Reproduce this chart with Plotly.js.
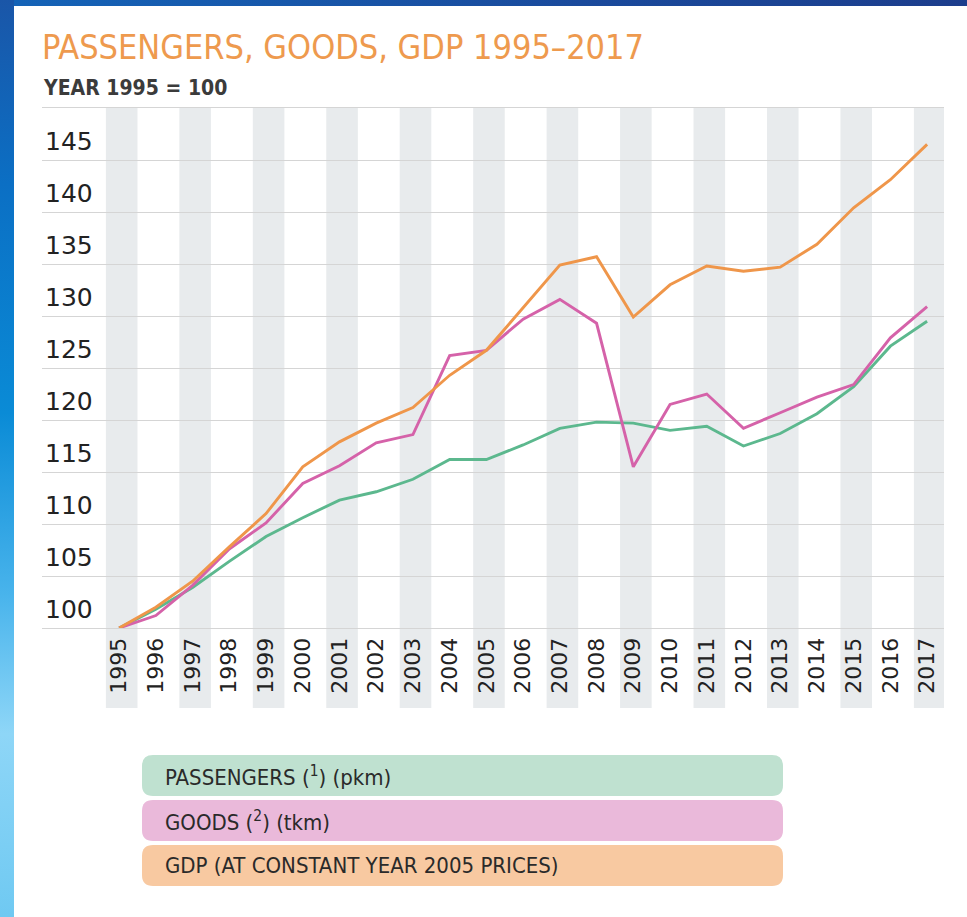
<!DOCTYPE html>
<html>
<head>
<meta charset="utf-8">
<script src="https://cdn.plot.ly/plotly-3.0.1.min.js"></script>
<style>
  html, body { margin: 0; padding: 0; width: 967px; height: 917px; overflow: hidden; background: #ffffff; }
  #topband { position: absolute; left: 0; top: 0; width: 967px; height: 6px;
    background: linear-gradient(to right, #1464b8, #1a4a9c 60%, #1c3d8c); }
  #leftband { position: absolute; left: 0; top: 0; width: 14px; height: 917px;
    background: linear-gradient(to bottom, #1a56a8 0%, #0b6fc4 20%, #0a8bd6 45%, #49b4ec 65%, #8ed6f7 80%, #6fc9f2 100%); }
  #chart { position: absolute; left: 14px; top: 6px; width: 953px; height: 911px; }
</style>
</head>
<body>
<div id="topband"></div>
<div id="leftband"></div>
<div id="chart"></div>
<script>
// ---- data ----
const years = [1995,1996,1997,1998,1999,2000,2001,2002,2003,2004,2005,2006,2007,2008,2009,2010,2011,2012,2013,2014,2015,2016,2017];
const passengers = [100,101.8,103.9,106.4,108.8,110.6,112.3,113.1,114.3,116.2,116.2,117.6,119.2,119.8,119.7,119.0,119.4,117.5,118.7,120.6,123.2,127.1,129.5];
const goods      = [100,101.2,104.1,107.6,110.1,113.9,115.6,117.8,118.6,126.2,126.7,129.7,131.6,129.3,115.5,121.5,122.5,119.2,120.7,122.2,123.4,127.9,130.9];
const gdp        = [100,102.0,104.5,107.8,111.0,115.5,117.9,119.7,121.2,124.3,126.7,130.8,134.9,135.7,129.9,133.0,134.8,134.3,134.7,136.9,140.4,143.1,146.5];
const seriesNames = ["PASSENGERS (<sup>1</sup>) (pkm)", "GOODS (<sup>2</sup>) (tkm)", "GDP (AT CONSTANT YEAR 2005 PRICES)"];
const yTicks = [100,105,110,115,120,125,130,135,140,145];
const yTickText = ["100","105","110","115","120","125","130","135","140","145"];
const titleText = "PASSENGERS, GOODS, GDP 1995\u20132017";
const subtitleText = "YEAR 1995 = 100";

// ---- styles ----
const lineColors = ["#5cb88e", "#d562a9", "#ef964a"];
const boxColors  = ["#bfe1d0", "#eab9da", "#f8c9a1"];

const W = 953, H = 911;
const M = {l: 28, r: 23, t: 102, b: 289};
const pw = W - M.l - M.r, ph = H - M.t - M.b;
// page pixel -> paper coordinates
function px(x) { return (x - 14 - M.l) / pw; }
function py(y) { return (M.t + ph - (y - 6)) / ph; }

const traces = [passengers, goods, gdp].map((vals, i) => ({
  type: "scatter", mode: "lines", x: years, y: vals, name: seriesNames[i],
  line: {color: lineColors[i], width: 2.9}, showlegend: false, hoverinfo: "x+y"
}));

const shapes = [];
// alternating vertical stripes
years.forEach((yr, i) => {
  if (i % 2 === 0) {
    shapes.push({type: "rect", xref: "x", yref: "paper", x0: yr - 0.36, x1: yr + 0.5,
      y0: py(708), y1: 1, fillcolor: "#e8ebed", line: {width: 0}, layer: "below"});
  }
});
// rounded legend boxes
function roundRect(x0, y0, x1, y1, r) {
  const X0 = px(x0), X1 = px(x1), Y0 = py(y0), Y1 = py(y1);
  const rx = r / pw, ry = r / ph;
  return `M ${X0 + rx},${Y0} L ${X1 - rx},${Y0} Q ${X1},${Y0} ${X1},${Y0 - ry} L ${X1},${Y1 + ry} Q ${X1},${Y1} ${X1 - rx},${Y1} L ${X0 + rx},${Y1} Q ${X0},${Y1} ${X0},${Y1 + ry} L ${X0},${Y0 - ry} Q ${X0},${Y0} ${X0 + rx},${Y0} Z`;
}
const boxTops = [755, 800, 845];
const annotations = [];
seriesNames.forEach((nm, i) => {
  shapes.push({type: "path", xref: "paper", yref: "paper", path: roundRect(142, boxTops[i], 783, boxTops[i] + 41, 11),
    fillcolor: boxColors[i], line: {width: 0}, layer: "above"});
  annotations.push({xref: "paper", yref: "paper", x: px(163), y: py(boxTops[i] + 20.5), xanchor: "left", yanchor: "middle",
    text: nm, showarrow: false, font: {family: "DejaVu Sans Condensed, DejaVu Sans", size: 22, color: "#2a2a2a"}});
});
annotations.push({xref: "paper", yref: "paper", x: px(41), y: py(88), xanchor: "left", yanchor: "middle",
  text: "<b>" + subtitleText + "</b>", showarrow: false,
  font: {family: "DejaVu Sans Condensed, DejaVu Sans", size: 21, color: "#3b3b3b"}});

const layout = {
  width: W, height: H,
  margin: M,
  paper_bgcolor: "#ffffff", plot_bgcolor: "rgba(0,0,0,0)",
  title: {text: titleText, x: M.l / W, xanchor: "left", xref: "container",
    y: 1 - (47 - 6) / H, yref: "container", yanchor: "middle",
    font: {family: "DejaVu Sans Condensed, DejaVu Sans", size: 34, color: "#ee9a4e"}},
  xaxis: {range: [1992.9, 2017.46], tickvals: years, ticktext: years.map(String), tickangle: -90,
    showgrid: false, zeroline: false, showline: true, mirror: true, linecolor: "#d5d5d5", linewidth: 1,
    ticks: "", tickfont: {family: "DejaVu Sans", size: 22, color: "#222"}, fixedrange: true},
  yaxis: {range: [100, 150], tickvals: yTicks, ticktext: yTickText, showgrid: true, gridcolor: "#d5d5d5", gridwidth: 1,
    zeroline: false, showline: false, ticks: "", ticklabelposition: "inside", ticklabelshift: -19,
    tickfont: {family: "DejaVu Sans", size: 25, color: "#222"}, fixedrange: true},
  shapes: shapes,
  annotations: annotations,
  showlegend: false
};

Plotly.newPlot("chart", traces, layout, {displayModeBar: false, staticPlot: true});
</script>
</body>
</html>
